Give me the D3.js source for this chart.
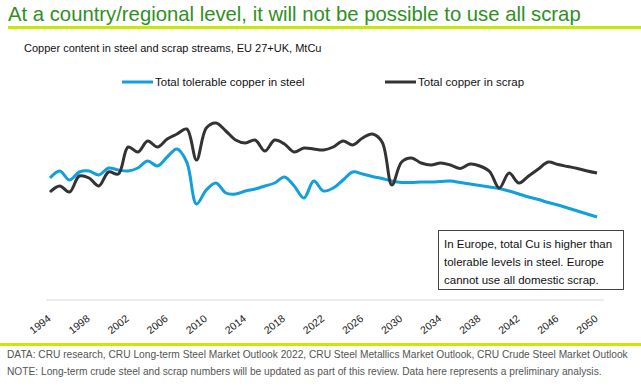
<!DOCTYPE html>
<html>
<head>
<meta charset="utf-8">
<script src="https://cdn.jsdelivr.net/npm/d3@7"></script>
<style>
  body { margin: 0; background: #fff; }
  svg { font-family: Arial, "Liberation Sans", sans-serif; }
</style>
</head>
<body>
<svg id="chart" width="641" height="386"></svg>
<script>
// Dữ liệu (MtCu, ước lượng)
const years = d3.range(1994, 2051);
const tickYears = d3.range(1994, 2051, 4);
const steelCu = [0.122,0.129,0.120,0.128,0.129,0.125,0.132,0.130,0.129,0.132,0.139,0.134,0.143,0.151,0.138,0.096,
  0.110,0.117,0.107,0.106,0.109,0.111,0.114,0.117,0.123,0.114,0.102,0.119,0.109,0.112,0.120,0.128,0.126,
  0.1235,0.1215,0.119,0.1175,0.1175,0.118,0.118,0.1185,0.119,0.1175,0.116,0.1145,0.113,0.1115,0.109,0.106,
  0.103,0.1005,0.0975,0.095,0.092,0.089,0.086,0.083];
const scrapCu = [0.108,0.114,0.108,0.124,0.122,0.114,0.128,0.126,
  0.153,0.148,0.159,0.153,0.161,0.166,0.171,0.140,
  0.172,0.177,0.169,0.160,0.157,0.160,0.149,0.160,
  0.156,0.148,0.152,0.151,0.150,0.153,0.159,0.155,
  0.162,0.166,0.158,0.115,0.138,0.142,0.137,0.135,
  0.137,0.135,0.1315,0.136,0.134,0.1285,0.112,0.127,
  0.117,0.124,0.131,0.138,0.1355,0.1335,0.1315,0.129,0.127];
const seriesNames = ["Total tolerable copper in steel", "Total copper in scrap"];
const seriesColors = ["#129fdd", "#333333"];

const svg = d3.select("#chart");
const green = "#c8ea00";

// Tiêu đề
svg.append("text").attr("x", 8).attr("y", 21)
  .attr("font-size", 20.3).attr("fill", "#2f8f1f")
  .text("At a country/regional level, it will not be possible to use all scrap");
svg.append("rect").attr("x", 8).attr("y", 26).attr("width", 633).attr("height", 3).attr("fill", green);

svg.append("text").attr("x", 24).attr("y", 52)
  .attr("font-size", 11).attr("fill", "#111")
  .text("Copper content in steel and scrap streams, EU 27+UK, MtCu");

// Thang đo
const x = d3.scaleLinear().domain([1994, 2050]).range([50, 597]);
const y = d3.scaleLinear().domain([0, 0.2]).range([300, 100]);

// Trục
svg.append("line")
  .attr("x1", x(1994) - 4).attr("x2", x(2050) + 7)
  .attr("y1", y(0)).attr("y2", y(0))
  .attr("stroke", "#d9d9d9").attr("stroke-width", 1);

const xAxis = svg.append("g")
  .attr("transform", `translate(0,${y(0)})`)
  .call(d3.axisBottom(x).tickValues(tickYears).tickFormat(d3.format("d")).tickSize(0));
xAxis.select(".domain").remove();
xAxis.selectAll("text")
  .attr("font-size", 10.5).attr("fill", "#222")
  .attr("font-family", "Arial, 'Liberation Sans', sans-serif")
  .attr("text-anchor", "end")
  .attr("dy", null).attr("y", 0)
  .attr("transform", "translate(1,20) rotate(-38)");

// Đường
const line = vals => d3.line()
  .x((d, i) => x(years[i]))
  .y(d => y(d))
  .curve(d3.curveCatmullRom.alpha(0.5))(vals);

[steelCu, scrapCu].forEach((vals, i) => {
  svg.append("path")
    .attr("d", line(vals))
    .attr("fill", "none")
    .attr("stroke", seriesColors[i])
    .attr("stroke-width", 3)
    .attr("stroke-linejoin", "round");
});

// Chú giải (legend)
const legendX = [122, 385];
seriesNames.forEach((n, i) => {
  svg.append("line")
    .attr("x1", legendX[i]).attr("x2", legendX[i] + 31)
    .attr("y1", 82).attr("y2", 82)
    .attr("stroke", seriesColors[i]).attr("stroke-width", 3);
  svg.append("text")
    .attr("x", legendX[i] + 33).attr("y", 86)
    .attr("font-size", 11.5).attr("fill", "#111")
    .text(n);
});

// Ghi chú
svg.append("rect").attr("x", 438.5).attr("y", 230.5).attr("width", 185).attr("height", 59)
  .attr("fill", "#fff").attr("stroke", "#444").attr("stroke-width", 1);
["In Europe, total Cu is higher than", "tolerable levels in steel. Europe", "cannot use all domestic scrap."]
  .forEach((t, i) => {
    svg.append("text").attr("x", 444).attr("y", 248 + i * 18)
      .attr("font-size", 11.5).attr("fill", "#111").text(t);
  });

// Nguồn
svg.append("rect").attr("x", 0).attr("y", 343).attr("width", 641).attr("height", 3).attr("fill", green);
svg.append("text").attr("x", 7).attr("y", 358).attr("font-size", 10.2).attr("fill", "#555")
  .text("DATA: CRU research, CRU Long-term Steel Market Outlook 2022, CRU Steel Metallics Market Outlook, CRU Crude Steel Market Outlook");
svg.append("text").attr("x", 7).attr("y", 375).attr("font-size", 10.2).attr("fill", "#555")
  .text("NOTE: Long-term crude steel and scrap numbers will be updated as part of this review. Data here represents a preliminary analysis.");
</script>
</body>
</html>
